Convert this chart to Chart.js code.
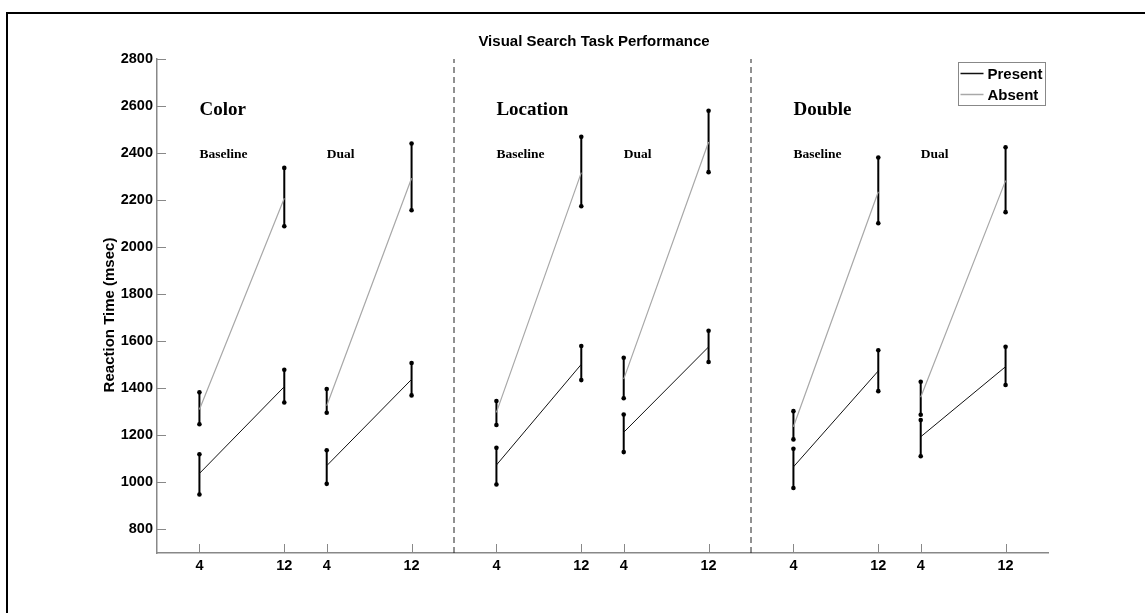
<!DOCTYPE html>
<html>
<head>
<meta charset="utf-8">
<script src="https://cdn.jsdelivr.net/npm/chart.js@4.4.1/dist/chart.umd.min.js"></script>
<style>
  body { margin: 0; background: #fff; }
  canvas { display: block; }
</style>
</head>
<body>
<canvas id="mycanvas" width="1145" height="613"></canvas>
<script>
// panels and conditions, each condition has set size 4 and 12
var panels = ['Color', 'Location', 'Double'];
var conditions = ['Baseline', 'Dual'];
var setSizes = [4, 12];
var yTicks = [800, 1000, 1200, 1400, 1600, 1800, 2000, 2200, 2400, 2600, 2800];

// order: Color-Baseline, Color-Dual, Location-Baseline, Location-Dual, Double-Baseline, Double-Dual ; [size 4, size 12]
var presentMean = [1038, 1407, 1071, 1438, 1074, 1502, 1213, 1576, 1066, 1474, 1194, 1492];
var presentLow  = [949, 1340, 994, 1370, 991, 1435, 1129, 1512, 976, 1388, 1111, 1414];
var presentHigh = [1120, 1479, 1137, 1508, 1147, 1580, 1289, 1645, 1143, 1562, 1265, 1577];
var absentMean  = [1310, 2208, 1326, 2293, 1298, 2317, 1439, 2447, 1237, 2236, 1362, 2283];
var absentLow   = [1247, 2089, 1296, 2157, 1244, 2174, 1358, 2319, 1183, 2102, 1288, 2149];
var absentHigh  = [1383, 2337, 1397, 2441, 1346, 2469, 1530, 2580, 1303, 2381, 1428, 2425];

// x position of a point on the linear axis
function xOf(p, c, s){ return p * 28 + c * 12 + (s - 4); }

var xTickVals = [];
var xTickText = {};
for (var p = 0; p < panels.length; p++){
  for (var c = 0; c < conditions.length; c++){
    for (var s = 0; s < setSizes.length; s++){
      var v = xOf(p, c, setSizes[s]);
      xTickVals.push(v);
      xTickText[v] = String(setSizes[s]);
    }
  }
}

function meanLine(means){
  var out = [];
  for (var g = 0; g < 6; g++){
    var p = Math.floor(g / 2), c = g % 2;
    out.push({x: xOf(p, c, 4), y: means[g * 2]});
    out.push({x: xOf(p, c, 12), y: means[g * 2 + 1]});
    out.push({x: xOf(p, c, 12) + 1, y: null});
  }
  return out;
}
function errBars(lows, highs){
  var out = [];
  for (var g = 0; g < 6; g++){
    var p = Math.floor(g / 2), c = g % 2;
    for (var s = 0; s < 2; s++){
      var xv = xOf(p, c, setSizes[s]);
      out.push({x: xv, y: lows[g * 2 + s]});
      out.push({x: xv, y: highs[g * 2 + s]});
      out.push({x: xv, y: null});
    }
  }
  return out;
}
function dividers(){
  var out = [];
  for (var p = 1; p < panels.length; p++){
    out.push({x: p * 28 - 4, y: 700});
    out.push({x: p * 28 - 4, y: 2800});
    out.push({x: p * 28 - 4, y: null});
  }
  return out;
}

var FONT = '"Liberation Sans", Arial, sans-serif';
var SERIF = '"Liberation Serif", "Times New Roman", serif';

var decor = {
  id: 'decor',
  afterDraw: function(chart){
    var ctx = chart.ctx, a = chart.chartArea, x = chart.scales.x, y = chart.scales.y;
    ctx.save();
    // inward tick marks
    ctx.strokeStyle = '#888';
    ctx.lineWidth = 1;
    xTickVals.forEach(function(v){
      var px = Math.round(x.getPixelForValue(v)) + 0.5;
      ctx.beginPath(); ctx.moveTo(px, a.bottom); ctx.lineTo(px, a.bottom - 9); ctx.stroke();
    });
    yTicks.forEach(function(v){
      var py = Math.round(y.getPixelForValue(v)) + 0.5;
      ctx.beginPath(); ctx.moveTo(a.left, py); ctx.lineTo(a.left + 9, py); ctx.stroke();
    });

    // outer frame (left and top only)
    ctx.fillStyle = '#000';
    ctx.fillRect(6, 12, 2, chart.height - 12);
    ctx.fillRect(6, 12, chart.width - 6, 2);

    // title
    ctx.fillStyle = '#000';
    ctx.font = 'bold 15px ' + FONT;
    ctx.textAlign = 'center';
    ctx.textBaseline = 'alphabetic';
    ctx.fillText('Visual Search Task Performance', 594, 46);

    // y title
    ctx.save();
    ctx.translate(114, 315);
    ctx.rotate(-Math.PI / 2);
    ctx.fillText('Reaction Time (msec)', 0, 0);
    ctx.restore();

    // panel and condition labels
    ctx.textAlign = 'left';
    for (var p = 0; p < panels.length; p++){
      ctx.font = 'bold 19px ' + SERIF;
      ctx.fillText(panels[p], x.getPixelForValue(xOf(p, 0, 4)), a.top + 56);
      ctx.font = 'bold 13.5px ' + SERIF;
      for (var c = 0; c < conditions.length; c++){
        ctx.fillText(conditions[c], x.getPixelForValue(xOf(p, c, 4)), a.top + 99);
      }
    }

    // legend
    var lx = a.right - 89.5, ly = 62.5;
    ctx.strokeStyle = '#888';
    ctx.lineWidth = 1;
    ctx.fillStyle = '#fff';
    ctx.fillRect(lx, ly, 87, 43);
    ctx.strokeRect(lx, ly, 87, 43);
    var items = [chart.data.datasets[0], chart.data.datasets[1]];
    ctx.font = 'bold 15px ' + FONT;
    items.forEach(function(ds, i){
      var yy = Math.round(73 + i * 21) + 0.5;
      ctx.strokeStyle = ds.borderColor;
      ctx.lineWidth = 1.5;
      ctx.beginPath(); ctx.moveTo(lx + 2, yy); ctx.lineTo(lx + 25, yy); ctx.stroke();
      ctx.fillStyle = '#000';
      ctx.fillText(ds.label, lx + 29, yy + 5.5);
    });
    ctx.restore();
  }
};

var ctx = document.getElementById('mycanvas');
var chart = new Chart(ctx, {
  type: 'line',
  data: {
    datasets: [
      {
        label: 'Present',
        data: meanLine(presentMean),
        borderColor: '#111',
        borderWidth: 1,
        pointRadius: 0,
        spanGaps: false,
        order: 1
      },
      {
        label: 'Absent',
        data: meanLine(absentMean),
        borderColor: '#a8a8a8',
        borderWidth: 1.2,
        pointRadius: 0,
        spanGaps: false,
        order: 0
      },
      {
        label: 'errors',
        data: errBars(presentLow, presentHigh).concat(errBars(absentLow, absentHigh)),
        borderColor: '#000',
        borderWidth: 2,
        pointRadius: 2.3,
        pointBackgroundColor: '#000',
        pointBorderWidth: 0,
        spanGaps: false,
        order: 2
      },
      {
        label: 'dividers',
        data: dividers(),
        borderColor: '#222',
        borderWidth: 1,
        borderDash: [6, 4],
        pointRadius: 0,
        spanGaps: false,
        order: 3
      }
    ]
  },
  options: {
    responsive: false,
    animation: false,
    clip: false,
    layout: { padding: { left: 0, top: 59, right: 97, bottom: 0 } },
    plugins: {
      legend: { display: false },
      title: { display: false },
      tooltip: { enabled: false }
    },
    scales: {
      x: {
        type: 'linear',
        min: -4,
        max: 80,
        afterBuildTicks: function(scale){
          scale.ticks = xTickVals.map(function(v){ return {value: v}; });
        },
        afterFit: function(scale){ scale.height = 60; },
        grid: { display: false, drawTicks: false },
        border: { color: '#888', width: 1.5 },
        ticks: {
          autoSkip: false,
          maxRotation: 0,
          padding: 4,
          color: '#000',
          font: { family: FONT, size: 14.5, weight: 'bold' },
          callback: function(v){ return xTickText[v]; }
        }
      },
      y: {
        min: 700,
        max: 2800,
        afterBuildTicks: function(scale){
          scale.ticks = yTicks.map(function(v){ return {value: v}; });
        },
        afterFit: function(scale){ scale.width = 157; },
        grid: { display: false, drawTicks: false },
        border: { color: '#888', width: 1.5 },
        ticks: {
          padding: 4,
          color: '#000',
          font: { family: FONT, size: 14.5, weight: 'bold' },
          callback: function(v){ return String(v); }
        }
      }
    }
  },
  plugins: [decor]
});
</script>
</body>
</html>
